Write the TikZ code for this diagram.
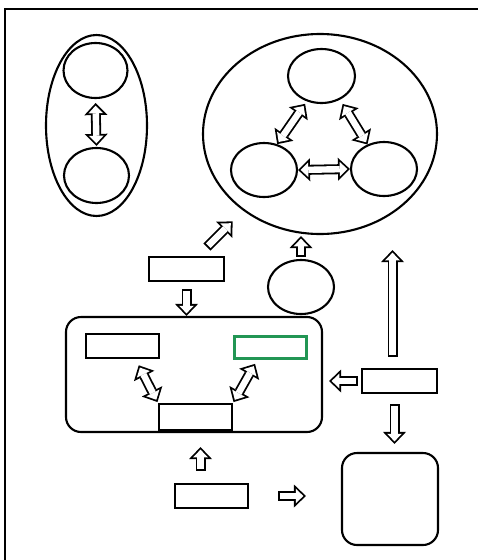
\documentclass[tikz,border=0pt]{standalone}
\usepackage[]{xcolor}
\usetikzlibrary{shapes.geometric,arrows.meta}

\definecolor{boxgreen}{RGB}{34,150,84}

\tikzset{
  oval/.style = {draw, ellipse, line width = 2.1pt, inner sep = 0pt},
  box/.style = {draw, rectangle, line width = 2.1pt, inner sep = 0pt, minimum width = 73pt, minimum height = 24pt},
  roundbox/.style = {draw, rectangle, line width = 2.1pt, rounded corners = 15pt, inner sep = 0pt},
  flow/.style 2 args = {line width = 10pt, shorten <= #1, shorten >= #2,
    -{Triangle[line width = 0pt, length = 12pt, width = 23pt]},
    postaction = {draw = white, line width = 6.4pt, shorten <= #1 + 1.8pt, shorten >= #2 + 2.6pt,
      -{Triangle[line width = 0pt, length = 7.6pt, width = 14.6pt]}}},
  twoway/.style 2 args = {line width = 10pt, shorten <= #1, shorten >= #2,
    {Triangle[line width = 0pt, length = 12pt, width = 23pt]}-{Triangle[line width = 0pt, length = 12pt, width = 23pt]},
    postaction = {draw = white, line width = 6.4pt, shorten <= #1 + 2.6pt, shorten >= #2 + 2.6pt,
      {Triangle[line width = 0pt, length = 7.6pt, width = 14.6pt]}-{Triangle[line width = 0pt, length = 7.6pt, width = 14.6pt]}}}
}

\begin{document}
\begin{tikzpicture}[x = 1pt, y = -1pt]
\useasboundingbox (0,0) rectangle (478,560);
\draw[line width = 2.5pt] (5,560) -- (5,9) -- (478,9); % open frame
\node [oval, minimum width = 101pt, minimum height = 181pt] (pairOuter) at (96.5,125.5) {};
\node [oval, minimum width = 64pt, minimum height = 55pt] (pairTop) at (95.5,70.5) {};
\node [oval, minimum width = 65pt, minimum height = 55pt] (pairBottom) at (96.5,175.5) {};
\node [oval, minimum width = 234pt, minimum height = 200pt] (groupOuter) at (320,134) {};
\node [oval, minimum width = 67pt, minimum height = 54pt] (groupTop) at (321.5,76) {};
\node [oval, minimum width = 66pt, minimum height = 54pt] (groupLeft) at (264,170) {};
\node [oval, minimum width = 66pt, minimum height = 54pt] (groupRight) at (384,169) {};
\node [oval, minimum width = 66pt, minimum height = 54pt] (smallOval) at (301,287) {};
\node [box, minimum width = 75pt] (topBox) at (186.5,269) {};
\node [roundbox, minimum width = 256pt, minimum height = 115pt] (mainBox) at (194,374.5) {};
\node [box] (leftBox) at (122.5,346) {};
\node [box, draw = boxgreen, line width = 3pt, minimum width = 72pt, minimum height = 22pt] (greenBox) at (270,347) {};
\node [box, minimum height = 26pt] (baseBox) at (195.5,417) {};
\node [box] (bottomBox) at (211.5,496) {};
\node [box, minimum width = 75pt] (sideBox) at (399.5,381) {};
\node [roundbox, minimum width = 96pt, minimum height = 92pt] (endBox) at (390,499) {};
\coordinate (linkStart) at (207,247);
\draw [twoway = {4pt}{1pt}] (pairTop.south) -- (pairBottom.north);
\draw [twoway = {0pt}{3pt}] (groupLeft.63) -- (groupTop.240);
\draw [twoway = {5pt}{0pt}] (groupTop.308) -- (groupRight.124);
\draw [twoway = {0pt}{0pt}] (groupLeft.east) -- (groupRight.west);
\draw [flow = {0pt}{15pt}] (linkStart) -- (groupOuter);
\draw [flow = {2pt}{1pt}] (smallOval.north) -- (smallOval.north |- groupOuter.south);
\draw [flow = {7pt}{0pt}] (topBox.south) -- (topBox.south |- mainBox.north);
\draw [twoway = {7pt}{1pt}] (leftBox.-45) -- (baseBox.north west);
\draw [twoway = {1pt}{5pt}] (baseBox.north east) -- (greenBox.225);
\draw [flow = {12pt}{14pt}] ([xshift = -11pt]bottomBox.north) -- ([xshift = -11pt]bottomBox.north |- mainBox.south);
\draw [flow = {29pt}{35pt}] (bottomBox.east) -- (bottomBox.east -| endBox.west);
\draw [flow = {3pt}{6pt}] (sideBox.west) -- (sideBox.west -| mainBox.east);
\draw [flow = {11pt}{15pt}] ([xshift = -7pt]sideBox.north) -- ([xshift = -7pt]sideBox.north |- groupOuter.south);
\draw [flow = {10pt}{8pt}] ([xshift = -5pt]sideBox.south) -- ([xshift = -5pt]sideBox.south |- endBox.north);
\end{tikzpicture}
\end{document}
